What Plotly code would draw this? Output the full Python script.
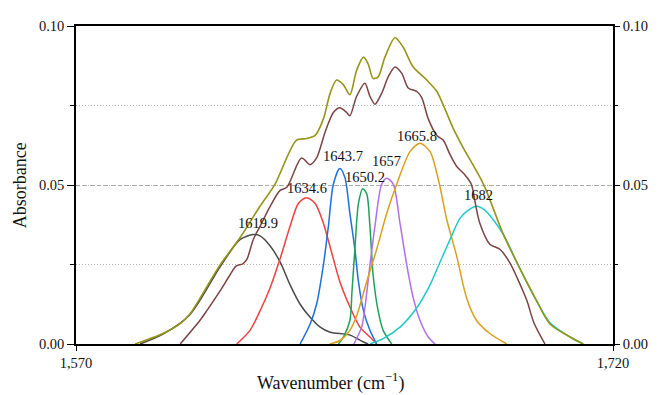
import plotly.graph_objects as go

# ---- data ----
sum_x = [1586.5, 1594.3, 1599.1, 1601.8, 1610.2, 1615.8, 1621.4, 1625.6, 1631.6, 1634.4, 1636.8,
         1639.1, 1641.0, 1642.8, 1644.7, 1646.5, 1648.4, 1650.3, 1651.6, 1653.0, 1654.4, 1656.3,
         1659.1, 1661.4, 1664.2, 1668.0, 1670.8, 1673.1, 1675.4, 1678.2, 1683.8, 1689.4, 1694.0,
         1698.7, 1702.4, 1708.0, 1711.7]
sum_y = [0.0, 0.0033, 0.0064, 0.0094, 0.0248, 0.0334, 0.0433, 0.0503, 0.0641, 0.0646, 0.0656,
         0.0708, 0.0789, 0.0830, 0.0815, 0.0784, 0.0861, 0.0902, 0.0881, 0.0835, 0.0840, 0.0902,
         0.0963, 0.0933, 0.0871, 0.0830, 0.0794, 0.0738, 0.0677, 0.0616, 0.0503, 0.0344, 0.0237,
         0.0135, 0.0063, 0.0022, 0.0]

spec_x = [1599.1, 1604.6, 1606.5, 1610.2, 1613.0, 1614.7, 1616.6, 1617.8, 1619.5, 1621.4, 1624.2,
          1627.0, 1628.9, 1633.0, 1635.4, 1637.2, 1639.6, 1641.9, 1643.7, 1645.6, 1646.5, 1648.4,
          1650.7, 1652.1, 1653.5, 1655.4, 1657.2, 1659.1, 1661.0, 1662.8, 1665.2, 1666.6, 1668.4,
          1670.8, 1672.6, 1674.5, 1676.3, 1678.4, 1680.4, 1681.7, 1682.8, 1685.6, 1688.4, 1691.2,
          1694.3, 1696.0, 1697.9, 1701.0]
spec_y = [0.0, 0.0074, 0.0104, 0.0166, 0.0217, 0.0245, 0.0252, 0.0268, 0.0328, 0.0370, 0.0432,
          0.0483, 0.0493, 0.0585, 0.0564, 0.0585, 0.0667, 0.0728, 0.0743, 0.0728, 0.0718, 0.0779,
          0.0820, 0.0779, 0.0754, 0.0789, 0.0840, 0.0871, 0.0851, 0.0805, 0.0794, 0.0774, 0.0708,
          0.0656, 0.0641, 0.0595, 0.0559, 0.0535, 0.0503, 0.0433, 0.0380, 0.0314, 0.0298, 0.0255,
          0.0181, 0.0135, 0.0067, 0.0]

p1619_x = [1587.9, 1594.3, 1601.8, 1610.2, 1615.8, 1619.5, 1621.4, 1624.2, 1627.0, 1629.8, 1632.6,
           1635.4, 1638.2, 1641.0, 1646.5, 1650.2, 1651.6]
p1619_y = [0.0, 0.0031, 0.0092, 0.0242, 0.0328, 0.0344, 0.0340, 0.0309, 0.0258, 0.0186, 0.0125,
           0.0084, 0.0053, 0.0037, 0.0028, 0.0007, 0.0]

p1634_x = [1614.9, 1618.6, 1621.4, 1624.2, 1627.0, 1629.8, 1632.1, 1634.4, 1636.8, 1639.1, 1641.4,
           1643.7, 1646.5, 1649.3, 1652.1, 1654.0]
p1634_y = [0.0, 0.0043, 0.0104, 0.0176, 0.0268, 0.0370, 0.0442, 0.0460, 0.0442, 0.0380, 0.0288,
           0.0196, 0.0117, 0.0053, 0.0022, 0.0]

p1643_x = [1632.6, 1635.4, 1637.2, 1639.1, 1640.5, 1641.9, 1643.7, 1645.1, 1646.5, 1647.9, 1648.9,
           1650.3, 1652.1, 1654.0]
p1643_y = [0.0, 0.0063, 0.0125, 0.0248, 0.0370, 0.0503, 0.0552, 0.0524, 0.0411, 0.0298, 0.0196,
           0.0104, 0.0043, 0.0]

p1650_x = [1643.3, 1644.7, 1646.5, 1647.1, 1647.9, 1648.9, 1650.1, 1651.2, 1652.1, 1653.0, 1654.4,
           1655.8, 1658.2]
p1650_y = [0.0, 0.0022, 0.0074, 0.0166, 0.0298, 0.0442, 0.0488, 0.0472, 0.0370, 0.0217, 0.0104,
           0.0043, 0.0]

p1657_x = [1647.6, 1649.8, 1650.7, 1652.1, 1653.5, 1655.4, 1656.8, 1658.6, 1660.5, 1662.4, 1664.2,
           1666.1, 1668.4, 1670.3]
p1657_y = [0.0, 0.0053, 0.0114, 0.0248, 0.0370, 0.0503, 0.0521, 0.0503, 0.0380, 0.0248, 0.0145,
           0.0074, 0.0022, 0.0]

p1665_x = [1640.9, 1643.7, 1646.5, 1648.4, 1651.2, 1654.0, 1656.8, 1659.6, 1663.3, 1666.1, 1668.9,
           1671.2, 1673.6, 1676.3, 1679.1, 1681.9, 1685.6, 1690.3]
p1665_y = [0.0, 0.0011, 0.0043, 0.0089, 0.0196, 0.0298, 0.0411, 0.0503, 0.0605, 0.0631, 0.0605,
           0.0518, 0.0390, 0.0278, 0.0145, 0.0074, 0.0033, 0.0]

p1682_x = [1652.1, 1655.8, 1660.5, 1665.2, 1668.9, 1671.7, 1674.5, 1677.3, 1679.6, 1681.9, 1684.2,
           1686.6, 1689.4, 1694.0, 1698.7, 1702.4, 1708.0, 1711.7]
p1682_y = [0.0, 0.0017, 0.0053, 0.0114, 0.0186, 0.0258, 0.0329, 0.0396, 0.0421, 0.0433, 0.0421,
           0.0390, 0.0344, 0.0237, 0.0135, 0.0067, 0.0022, 0.0]

peak_labels = ["1619.9", "1634.6", "1643.7", "1650.2", "1657", "1665.8", "1682"]
label_x = [1620.9, 1634.4, 1644.6, 1650.7, 1656.8, 1665.2, 1682.4]
label_y = [0.0380, 0.0491, 0.0592, 0.0525, 0.0577, 0.0654, 0.0467]

x_tick_vals = [1570, 1720]
x_tick_text = ["1,570", "1,720"]
y_tick_vals = [0.0, 0.05, 0.10]
y_tick_text = ["0.00", "0.05", "0.10"]

FONT = "Times New Roman, Liberation Serif, serif"

components = [
    (p1619_x, p1619_y, "#4a4a4a"),
    (p1634_x, p1634_y, "#f04040"),
    (p1643_x, p1643_y, "#1f6fdc"),
    (p1650_x, p1650_y, "#22a05a"),
    (p1657_x, p1657_y, "#b070e6"),
    (p1665_x, p1665_y, "#d9a020"),
    (p1682_x, p1682_y, "#22c8c8"),
]

fig = go.Figure()
for xs, ys, col in components:
    fig.add_trace(go.Scatter(x=xs, y=ys, mode="lines", line=dict(color=col, width=1.5, shape="spline", smoothing=0.8),
                             showlegend=False, hoverinfo="skip"))
fig.add_trace(go.Scatter(x=spec_x, y=spec_y, mode="lines",
                         line=dict(color="#7a4444", width=1.5, shape="spline", smoothing=0.8),
                         showlegend=False, hoverinfo="skip"))
fig.add_trace(go.Scatter(x=sum_x, y=sum_y, mode="lines",
                         line=dict(color="#959518", width=1.6, shape="spline", smoothing=0.8),
                         showlegend=False, hoverinfo="skip"))
# invisible trace to bring the right-hand axis to life
fig.add_trace(go.Scatter(x=[1570], y=[0], yaxis="y2", mode="lines", line=dict(width=0),
                         showlegend=False, hoverinfo="skip"))

for t, lx, ly in zip(peak_labels, label_x, label_y):
    fig.add_annotation(x=lx, y=ly, text=t, showarrow=False, font=dict(family=FONT, size=14.5, color="#111"),
                       xanchor="center", yanchor="middle")

fig.add_annotation(xref="paper", yref="paper", x=0.473, y=-0.12, text="Wavenumber (cm<sup>−1</sup>)",
                   showarrow=False, font=dict(family=FONT, size=18, color="#111"), xanchor="center", yanchor="middle")
fig.add_annotation(xref="paper", yref="paper", x=-0.104, y=0.5, text="Absorbance", textangle=-90,
                   showarrow=False, font=dict(family=FONT, size=18, color="#111"), xanchor="center", yanchor="middle")

yaxis_common = dict(range=[0, 0.10], tickvals=y_tick_vals, ticktext=y_tick_text,
                    ticks="outside", tickwidth=1.3, tickcolor="#000",
                    showline=True, linecolor="#000", linewidth=1.5, zeroline=False,
                    tickfont=dict(family=FONT, size=14.5, color="#111"))

# the page body adds an 8px offset, so the figure is 8px smaller and margins shifted
fig.update_layout(
    width=652, height=387,
    margin=dict(l=68, r=47, t=10, b=51),
    paper_bgcolor="white", plot_bgcolor="white",
    xaxis=dict(range=[1570, 1720], tickvals=x_tick_vals, ticktext=x_tick_text, ticks="outside",
               ticklen=5, tickwidth=1.3, tickcolor="#000", showline=True, linecolor="#000", linewidth=1.5,
               mirror=True, showgrid=False, zeroline=False,
               tickfont=dict(family=FONT, size=14.5, color="#111")),
    yaxis=dict(**yaxis_common, ticklen=7, showgrid=True, gridcolor="#aaaaaa", gridwidth=1, griddash="4px,3px",
               minor=dict(dtick=0.025, tick0=0, ticks="outside", ticklen=4, tickcolor="#000",
                          showgrid=True, gridcolor="#b5b5b5", gridwidth=1, griddash="1px,2px")),
    yaxis2=dict(**yaxis_common, ticklen=5, overlaying="y", side="right", showgrid=False,
                minor=dict(dtick=0.025, tick0=0, ticks="outside", ticklen=3, tickcolor="#000", showgrid=False)),
)

fig.write_html("out.html")
